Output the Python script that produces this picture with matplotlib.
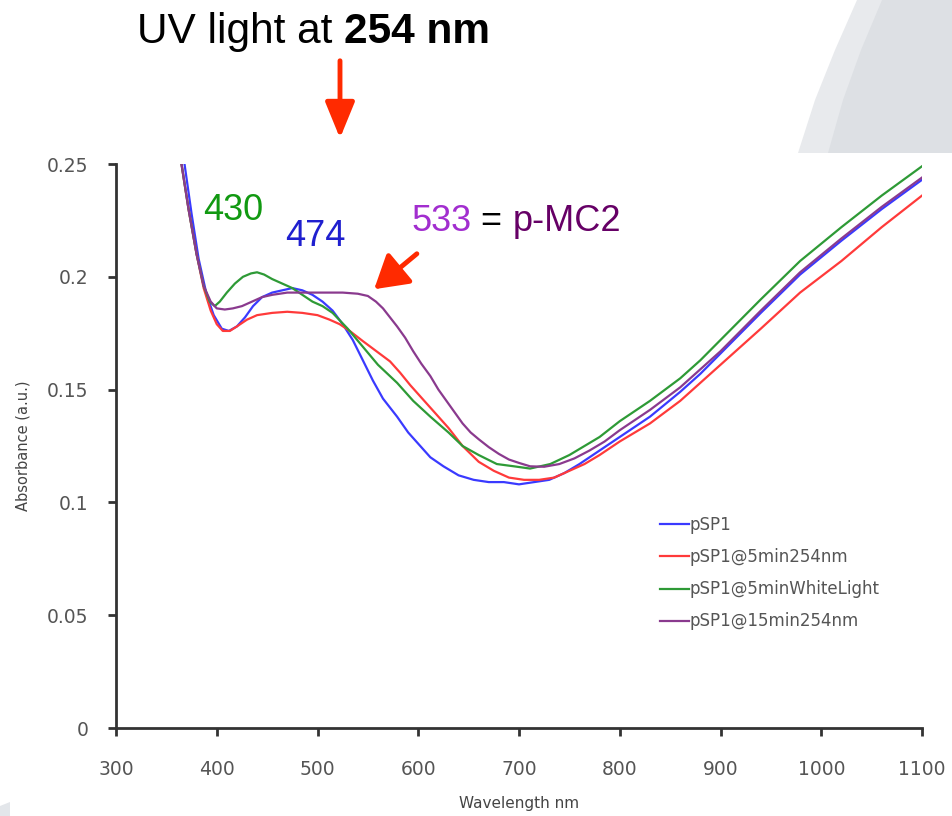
import matplotlib
matplotlib.use("Agg")
import matplotlib.pyplot as plt
from matplotlib.patches import Polygon, FancyArrowPatch

# Wavelength (nm) / absorbance
wl_blue = [365, 368, 375, 382, 390, 397, 405, 412, 420, 428, 436, 445, 455, 465, 475, 485, 495,
           505, 515, 525, 535, 545, 555, 565, 579, 590, 600, 612, 625, 640, 655, 670, 685, 700,
           715, 730, 745, 760, 780, 800, 830, 860, 880, 900, 940, 979, 1020, 1060, 1100]
abs_blue = [0.262, 0.250, 0.228, 0.208, 0.192, 0.183, 0.177, 0.176, 0.178, 0.182, 0.187, 0.191,
            0.193, 0.194, 0.195, 0.194, 0.192, 0.189, 0.185, 0.179, 0.172, 0.163, 0.154, 0.146,
            0.138, 0.131, 0.126, 0.120, 0.116, 0.112, 0.110, 0.109, 0.109, 0.108, 0.109, 0.110,
            0.113, 0.117, 0.123, 0.129, 0.138, 0.149, 0.157, 0.166, 0.184, 0.201, 0.216, 0.230,
            0.243]

wl_red = [362, 365, 372, 380, 387, 394, 400, 406, 413, 420, 430, 440, 455, 470, 485, 500, 512,
          522, 532, 545, 560, 572, 582, 592, 602, 612, 630, 644, 660, 675, 690, 705, 720, 735,
          750, 765, 780, 800, 830, 860, 880, 900, 940, 979, 1020, 1060, 1100]
abs_red = [0.262, 0.250, 0.230, 0.210, 0.195, 0.185, 0.179, 0.176, 0.176, 0.178, 0.181, 0.183,
           0.184, 0.1845, 0.184, 0.183, 0.181, 0.179, 0.176, 0.1715, 0.1665, 0.1625, 0.1575,
           0.152, 0.147, 0.142, 0.133, 0.125, 0.118, 0.114, 0.111, 0.110, 0.110, 0.111, 0.114,
           0.117, 0.121, 0.127, 0.135, 0.145, 0.153, 0.161, 0.177, 0.193, 0.207, 0.222, 0.236]

wl_green = [362, 365, 372, 380, 387, 393, 398, 403, 410, 418, 426, 434, 440, 447, 455, 465, 475,
            485, 495, 505, 515, 530, 545, 560, 579, 595, 612, 630, 644, 660, 678, 695, 711, 731,
            750, 765, 780, 800, 830, 860, 880, 900, 940, 979, 1020, 1060, 1100]
abs_green = [0.262, 0.250, 0.230, 0.210, 0.196, 0.189, 0.187, 0.189, 0.193, 0.197, 0.200, 0.2015,
             0.202, 0.201, 0.199, 0.197, 0.195, 0.192, 0.189, 0.187, 0.184, 0.177, 0.169, 0.161,
             0.153, 0.145, 0.138, 0.131, 0.125, 0.121, 0.117, 0.116, 0.115, 0.117, 0.121, 0.125,
             0.129, 0.136, 0.145, 0.155, 0.163, 0.172, 0.190, 0.207, 0.222, 0.236, 0.249]

wl_purple = [362, 365, 372, 380, 387, 394, 400, 408, 416, 425, 435, 445, 455, 470, 490, 510, 525,
             540, 550, 558, 565, 572, 579, 587, 595, 603, 612, 620, 628, 636, 644, 652, 660, 670,
             680, 690, 700, 711, 725, 740, 755, 770, 785, 800, 830, 860, 880, 900, 940, 979, 1020,
             1060, 1100]
abs_purple = [0.262, 0.250, 0.230, 0.210, 0.196, 0.189, 0.186, 0.1855, 0.186, 0.187, 0.189,
              0.191, 0.192, 0.193, 0.193, 0.193, 0.193, 0.1925, 0.1915, 0.189, 0.186, 0.182,
              0.178, 0.173, 0.167, 0.1615, 0.156, 0.150, 0.145, 0.140, 0.135, 0.131, 0.128,
              0.1245, 0.1215, 0.119, 0.1175, 0.116, 0.1158, 0.117, 0.1195, 0.123, 0.127, 0.132,
              0.141, 0.151, 0.159, 0.167, 0.185, 0.202, 0.217, 0.231, 0.244]

labels = ["pSP1", "pSP1@5min254nm", "pSP1@5minWhiteLight", "pSP1@15min254nm"]
x_ticks = [300, 400, 500, 600, 700, 800, 900, 1000, 1100]
y_ticks = [0, 0.05, 0.1, 0.15, 0.2, 0.25]
y_ticklabels = ["0", "0.05", "0.1", "0.15", "0.2", "0.25"]

W, H = 952, 816
fig = plt.figure(figsize=(W / 100, H / 100), dpi=100)
fig.patch.set_facecolor("white")


def px_poly(pts, color):
    # decoration drawn in figure pixels (slide background)
    p = Polygon([(x / W, 1 - y / H) for x, y in pts], closed=True, transform=fig.transFigure,
                facecolor=color, edgecolor="none", zorder=0)
    fig.patches.append(p)


px_poly([(798, 153), (815, 100), (835, 50), (857, 0), (952, 0), (952, 153)], "#e8eaed")
px_poly([(828, 153), (843, 100), (861, 50), (882, 0), (952, 0), (952, 153)], "#dde0e4")
px_poly([(0, 816), (0, 806), (10, 802), (10, 816)], "#e3e6ea")

ax = fig.add_axes([116 / W, 1 - 728 / H, (922 - 116) / W, (728 - 164) / H])
ax.patch.set_alpha(0)

series = [(wl_blue, abs_blue, "#3a3aff"), (wl_red, abs_red, "#ff3a3a"),
          (wl_green, abs_green, "#2e9a36"), (wl_purple, abs_purple, "#8a3a8e")]
for (wl, ab, c), lab in zip(series, labels):
    ax.plot(wl, ab, color=c, lw=1.6, label=lab)

ax.set_xlim(300, 1100)
ax.set_ylim(0, 0.25)
ax.set_xticks(x_ticks)
ax.set_yticks(y_ticks)
ax.set_yticklabels(y_ticklabels)
for s in ["top", "right"]:
    ax.spines[s].set_visible(False)
for s in ["left", "bottom"]:
    ax.spines[s].set_color("#333333")
    ax.spines[s].set_linewidth(2)
ax.tick_params(axis="both", colors="#333333", width=2, length=6, direction="out",
               labelcolor="#555555", labelsize=13.5)
ax.tick_params(axis="x", pad=17)
ax.tick_params(axis="y", pad=14)

ax.set_xlabel("Wavelength nm", fontsize=11, color="#444444", labelpad=12)
ax.set_ylabel("Absorbance (a.u.)", fontsize=10.5, color="#444444", labelpad=12)

leg = ax.legend(loc="upper left", bbox_to_anchor=((645 - 116) / (922 - 116), (728 - 501) / (728 - 164)),
                frameon=False, handlelength=1.75, handletextpad=0.0, labelspacing=0.85,
                prop={"size": 12})
for t in leg.get_texts():
    t.set_color("#555555")

# peak annotations
ax.text(416, 0.2296, "430", color="#119911", fontsize=26, family="Liberation Sans",
        ha="center", va="center")
ax.text(497.5, 0.218, "474", color="#1f1fcf", fontsize=26, family="Liberation Sans",
        ha="center", va="center")
t533 = ax.text(593, 0.2243, "533", color="#a22ecf", fontsize=26, family="Liberation Sans",
               ha="left", va="center")
teq = ax.annotate(" = ", xy=(1, 0.5), xycoords=t533, ha="left", va="center", color="black",
                  fontsize=26, family="Liberation Sans")
ax.annotate("p-MC2", xy=(1, 0.5), xycoords=teq, ha="left", va="center", color="#660066",
            fontsize=26, family="Liberation Sans")

arrow_533 = FancyArrowPatch((419 / W, 1 - 252 / H), (372 / W, 1 - 291 / H),
                            transform=fig.transFigure, arrowstyle="-|>,head_length=10,head_width=6",
                            color="#ff2a00", lw=3.5, mutation_scale=2)
fig.patches.append(arrow_533)

# title and UV arrow
title = fig.text(137 / W, 1 - 32 / H, "UV light at ", fontsize=30.5, family="Liberation Sans",
                 ha="left", va="center")
ax.annotate("254 nm", xy=(1, 0.5), xycoords=title, ha="left", va="center", fontsize=30.5,
            family="Liberation Sans", fontweight="bold", annotation_clip=False)

arrow_uv = FancyArrowPatch((340 / W, 1 - 58 / H), (340 / W, 1 - 141 / H),
                           transform=fig.transFigure, arrowstyle="-|>,head_length=11,head_width=4.5",
                           color="#ff2a00", lw=3.5, mutation_scale=2)
fig.patches.append(arrow_uv)

fig.savefig("out.png", dpi=100)
